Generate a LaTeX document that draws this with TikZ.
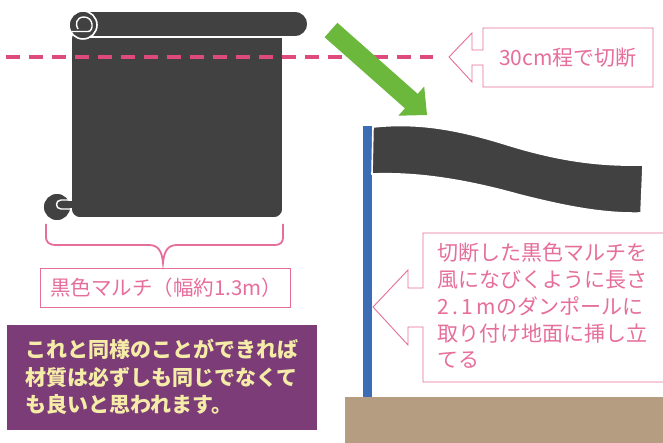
\documentclass[tikz,border=0pt]{standalone}
\usepackage{fontspec}
\newfontfamily\jp{Noto Sans CJK JP}
\definecolor{mulch}{HTML}{414142}
\definecolor{cutline}{HTML}{DF4A7E}
\definecolor{pinktext}{HTML}{E66E9B}
\definecolor{arrowgreen}{HTML}{6BB83D}
\definecolor{poleblue}{HTML}{3C6DB4}
\definecolor{soil}{HTML}{B49D80}
\definecolor{notepurple}{HTML}{7B3C78}
\definecolor{notetext}{HTML}{F5ECA8}
\tikzset{
  sheet/.style={fill=mulch, draw=white, line width=1.6pt},
  curl/.style={draw=white, line width=1.4pt},
  callout/.style={draw=pinktext, line width=0.9pt, line join=miter},
  pinklabel/.style={text=pinktext, font=\jp\fontsize{20}{26.7}\selectfont, inner sep=0pt},
}
\begin{document}
\begin{tikzpicture}[x=1pt,y=-1pt]
\useasboundingbox (0,0) rectangle (663,443);
\fill[white] (0,0) rectangle (663,443);

% ground and pole
\fill[soil] (345,397) rectangle (670,450);
\fill[poleblue] (363,126) rectangle (372,397);

% waving strip on the pole
\path[sheet] (373,127) .. controls (420,122) and (460,130) .. (508,145)
  .. controls (560,161) and (600,166) .. (643,165) -- (641,213)
  .. controls (600,214) and (560,205) .. (520,195)
  .. controls (470,181) and (420,172) .. (372,174) -- cycle;

% roll of mulch sheet
\path[sheet, rounded corners=9pt] (71,30) -- (283,30) -- (283,218) -- (71,218) -- cycle;
\path[sheet] (84,11) -- (295,11) arc[start angle=-90, end angle=90, radius=13] -- (84,37) -- cycle;
\path[sheet] (83,25) circle[radius=14];
\draw[curl] (72,31.5) -- (88,31.5) .. controls (94,31.5) and (94,17) .. (84,17)
  .. controls (76,17) and (75,25) .. (78,29);
\path[sheet] (57,207) circle[radius=14];
\draw[curl] (71,200) -- (61,200) .. controls (55,200) and (55,209) .. (61,209) -- (71,209);
\fill[mulch] (62,201) rectangle (73,208);

% cutting line
\draw[cutline, line width=3.5pt, dash pattern=on 14pt off 9pt] (6,57) -- (433,57);

% green block arrow
\fill[arrowgreen] (337.4,22.8) -- (417.7,93.9) -- (424.2,86.5) -- (427,115)
  -- (398.4,115.7) -- (404.9,108.3) -- (324.6,37.2) -- cycle;

% callout: cut length
\draw[callout] (449,57) -- (472,33) -- (472,50) -- (483,50) -- (483,28) -- (653,28)
  -- (653,87) -- (483,87) -- (483,65) -- (472,65) -- (472,82) -- cycle;
\node[pinklabel, font=\jp\fontsize{21}{26}\selectfont] (cut) at (568,58) {30cm程で切断};

% width brace and label
\draw[pinktext, line width=1.8pt] (46,224) -- (46,236) .. controls (46,243) and (49,245) .. (57,245)
  -- (149,245) .. controls (158,245) and (162,251) .. (163,263)
  .. controls (164,251) and (168,245) .. (177,245) -- (273,245)
  .. controls (281,245) and (283,243) .. (283,236) -- (283,224);
\draw[callout] (40,268) rectangle (290,307);
\node[pinklabel, font=\jp\fontsize{20.5}{26}\selectfont] (width) at (166,288) {黒色マルチ（幅約1.3m）};

% note box
\fill[notepurple] (7,325) rectangle (317,430);
\node[anchor=north west, text=notetext, font=\jp\bfseries\fontsize{21}{27.5}\selectfont,
  align=left, inner sep=0pt] (note) at (25,339)
  {これと同様のことができれば\\材質は必ずしも同じでなくて\\も良いと思われます。};

% callout: mounting on the pole
\draw[callout] (373,307) -- (408,270) -- (408,288) -- (423,288) -- (423,233) -- (670,233)
  -- (670,382) -- (423,382) -- (423,327) -- (408,327) -- (408,345) -- cycle;
\node[pinklabel, anchor=north west, align=left, font=\jp\fontsize{21}{26.7}\selectfont] (mount) at (437,243)
  {切断した黒色マルチを\\風になびくように長さ\\\makebox[2.8em][s]{2\hfil.\hfil1\hfil m}のダンポールに\\取り付け地面に挿し立\\てる};
\end{tikzpicture}
\end{document}
